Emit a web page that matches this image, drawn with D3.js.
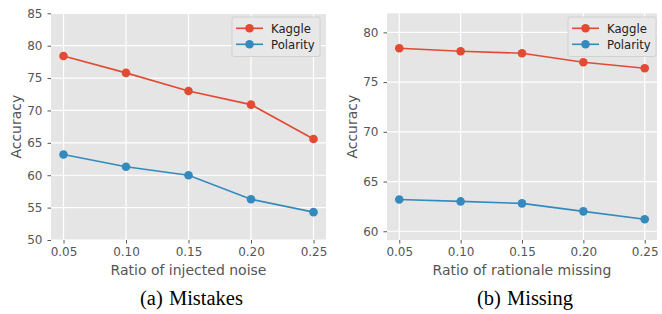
<!DOCTYPE html>
<html>
<head>
<meta charset="utf-8">
<script src="https://cdn.jsdelivr.net/npm/d3@7"></script>
<style>
  body { margin: 0; background: #fff; }
  svg { display: block; }
</style>
</head>
<body>
<div id="chart"></div>
<script>
let ratios = [0.05, 0.10, 0.15, 0.20, 0.25]
let seriesNames = ['Kaggle', 'Polarity']
let colors = ['#E24A33', '#348ABD']

// (a) mistakes
let kaggleMistakes = [78.4, 75.8, 73.0, 70.9, 65.6]
let polarityMistakes = [63.2, 61.3, 60.0, 56.3, 54.3]
let yTicksMistakes = [50, 55, 60, 65, 70, 75, 80, 85]

// (b) missing
let kaggleMissing = [78.4, 78.1, 77.9, 77.0, 76.4]
let polarityMissing = [63.2, 63.0, 62.8, 62.0, 61.2]
let yTicksMissing = [60, 65, 70, 75, 80]

let panels = [
  { left: 51, right: 326, yDomain: [50, 85], yTicks: yTicksMistakes,
    series: [kaggleMistakes, polarityMistakes],
    xlabel: 'Ratio of injected noise', caption: '(a) Mistakes', legendX: 232 },
  { left: 387, right: 657, yDomain: [59.12, 81.92], yTicks: yTicksMissing,
    series: [kaggleMissing, polarityMissing],
    xlabel: 'Ratio of rationale missing', caption: '(b) Missing', legendX: 568 }
]

let plotTop = 13.3
let plotBottom = 240

let svg = d3
  .select('#chart')
  .append('svg')
  .attr('width', 662)
  .attr('height', 314)

panels.forEach(p => {
  let x = d3.scaleLinear().domain([0.04, 0.26]).range([p.left, p.right])
  let y = d3.scaleLinear().domain(p.yDomain).range([plotBottom, plotTop])

  let g = svg.append('g')

  g.append('rect')
    .attr('x', p.left)
    .attr('y', plotTop)
    .attr('width', p.right - p.left)
    .attr('height', plotBottom - plotTop)
    .attr('fill', '#E5E5E5')

  // grid
  g.selectAll('.vgrid')
    .data(ratios)
    .enter()
    .append('line')
    .attr('x1', d => x(d))
    .attr('x2', d => x(d))
    .attr('y1', plotTop)
    .attr('y2', plotBottom)
    .attr('stroke', '#fff')
    .attr('stroke-width', 1.2)

  g.selectAll('.hgrid')
    .data(p.yTicks)
    .enter()
    .append('line')
    .attr('x1', p.left)
    .attr('x2', p.right)
    .attr('y1', d => y(d))
    .attr('y2', d => y(d))
    .attr('stroke', '#fff')
    .attr('stroke-width', 1.2)

  // axes
  let xAxis = g.append('g')
    .attr('transform', 'translate(0,' + plotBottom + ')')
    .call(d3.axisBottom(x).tickValues(ratios).tickFormat(d3.format('.2f')).tickSizeOuter(0).tickSize(3.5).tickPadding(4))
  let yAxis = g.append('g')
    .attr('transform', 'translate(' + p.left + ',0)')
    .call(d3.axisLeft(y).tickValues(p.yTicks).tickSizeOuter(0).tickSize(3.5).tickPadding(5))

  ;[xAxis, yAxis].forEach(a => {
    a.select('.domain').remove()
    a.selectAll('line').attr('stroke', '#555')
    a.selectAll('text')
      .attr('fill', '#555')
      .style('font-family', 'DejaVu Sans')
      .style('font-size', '12px')
  })

  // labels
  g.append('text')
    .attr('x', (p.left + p.right) / 2)
    .attr('y', 275)
    .attr('text-anchor', 'middle')
    .attr('fill', '#555')
    .style('font-family', 'DejaVu Sans')
    .style('font-size', '14px')
    .text(p.xlabel)

  g.append('text')
    .attr('transform', 'translate(' + (p.left - 30) + ',' + (plotTop + plotBottom) / 2 + ') rotate(-90)')
    .attr('text-anchor', 'middle')
    .attr('fill', '#555')
    .style('font-family', 'DejaVu Sans')
    .style('font-size', '14px')
    .text('Accuracy')

  g.append('text')
    .attr('x', (p.left + p.right) / 2 + 3)
    .attr('y', 304.5)
    .attr('text-anchor', 'middle')
    .attr('fill', '#000')
    .style('font-family', 'Liberation Serif')
    .style('font-size', '20.5px')
    .style('word-spacing', '1px')
    .text(p.caption)

  // lines and points
  let line = d3.line().x((d, i) => x(ratios[i])).y(d => y(d))
  p.series.forEach((vals, si) => {
    g.append('path')
      .datum(vals)
      .attr('d', line)
      .attr('fill', 'none')
      .attr('stroke', colors[si])
      .attr('stroke-width', 1.6)
    g.selectAll('.pt' + si)
      .data(vals)
      .enter()
      .append('circle')
      .attr('cx', (d, i) => x(ratios[i]))
      .attr('cy', d => y(d))
      .attr('r', 4.3)
      .attr('fill', colors[si])
  })

  // legend
  let lg = g.append('g').attr('transform', 'translate(' + p.legendX + ',17)')
  lg.append('rect')
    .attr('width', 88)
    .attr('height', 39.5)
    .attr('rx', 2)
    .attr('fill', '#E8E8E8')
    .attr('stroke', '#CCCCCC')
    .attr('stroke-width', 0.8)
  seriesNames.forEach((name, i) => {
    let ly = 11.3 + i * 16
    lg.append('line')
      .attr('x1', 4)
      .attr('x2', 31)
      .attr('y1', ly)
      .attr('y2', ly)
      .attr('stroke', colors[i])
      .attr('stroke-width', 1.6)
    lg.append('circle')
      .attr('cx', 17.5)
      .attr('cy', ly)
      .attr('r', 4.3)
      .attr('fill', colors[i])
    lg.append('text')
      .attr('x', 39)
      .attr('y', ly + 4.2)
      .attr('fill', '#222')
      .style('font-family', 'DejaVu Sans')
      .style('font-size', '11.7px')
      .text(name)
  })
})
</script>
</body>
</html>
